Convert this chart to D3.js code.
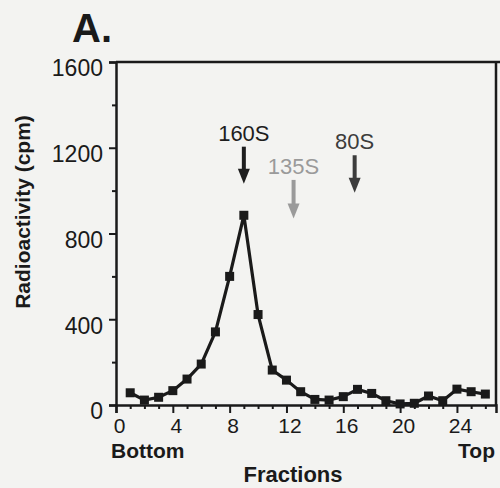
<!DOCTYPE html>
<html>
<head>
<meta charset="utf-8">
<script src="https://d3js.org/d3.v7.min.js"></script>
<style>
  html, body { margin: 0; padding: 0; background: #f3f3f1; }
  svg { display: block; }
  text { font-family: "Liberation Sans", Arial, Helvetica, sans-serif; }
</style>
</head>
<body>
<script>
// ---- data ----
const fractions = [1,2,3,4,5,6,7,8,9,10,11,12,13,14,15,16,17,18,19,20,21,22,23,24,25,26];
const cpm = [57,23,36,67,121,191,341,600,885,422,163,116,62,26,23,39,73,54,20,5,8,42,20,74,62,51];
const xTicks = [0,4,8,12,16,20,24];
const yTicks = [0,400,800,1200,1600];
const markerLabels = ["160S","135S","80S"];
const markerFractions = [9,12.5,16.8];
const markerTops = [1205,1050,1165];
const markerTips = [1032,870,990];
const markerColors = ["#1e1e1e","#9a9a9a","#3c3c3c"];

(function () {
const W = 500, H = 488;
const svg = d3.select("body").append("svg").attr("width", W).attr("height", H);

const mLeft = 116, mRight = 496, mTop = 62, mBottom = 405;
const x = d3.scaleLinear().domain([0, 26.75]).range([mLeft, mRight]);
const y = d3.scaleLinear().domain([0, 1600]).range([mBottom, mTop]);

const ink = "#1a1a1a";

// frame (top and right)
svg.append("line").attr("x1", mLeft).attr("x2", W).attr("y1", mTop).attr("y2", mTop)
  .attr("stroke", ink).attr("stroke-width", 2.5);
svg.append("line").attr("x1", mRight).attr("x2", mRight).attr("y1", mTop).attr("y2", mBottom)
  .attr("stroke", ink).attr("stroke-width", 2.5);

// y axis
const yAxis = d3.axisLeft(y).tickValues(yTicks).tickSize(7).tickPadding(6).tickFormat(d3.format("d"));
const gy = svg.append("g").attr("transform", `translate(${mLeft},0)`).call(yAxis);
gy.selectAll(".tick text").attr("font-size", 23).attr("fill", ink).attr("dy", "0.6em")
  .attr("font-family", "'Liberation Sans', Arial, sans-serif");
const yMinor = d3.axisLeft(y).tickValues(d3.range(200, 1600, 400)).tickSize(4).tickFormat("");
svg.append("g").attr("transform", `translate(${mLeft},0)`).call(yMinor).select(".domain").remove();

// x axis
const xAxis = d3.axisBottom(x).tickValues(xTicks).tickSize(8).tickPadding(5).tickFormat(d3.format("d"));
const gx = svg.append("g").attr("transform", `translate(0,${mBottom})`).call(xAxis);
gx.selectAll(".tick text").attr("font-size", 21).attr("fill", ink)
  .attr("dx", 3).attr("font-family", "'Liberation Sans', Arial, sans-serif");
const xMinor = d3.axisBottom(x).tickValues(d3.range(1, 27).filter(d => d % 4 !== 0)).tickSize(4).tickFormat("");
svg.append("g").attr("transform", `translate(0,${mBottom})`).call(xMinor).select(".domain").remove();

svg.selectAll(".domain").attr("stroke", ink).attr("stroke-width", 2.5);
svg.selectAll(".tick line").attr("stroke", ink).attr("stroke-width", 2);

// data line
const pts = fractions.map((f, i) => [f, cpm[i]]);
svg.append("path").datum(pts)
  .attr("fill", "none").attr("stroke", ink).attr("stroke-width", 3.2).attr("stroke-linejoin", "round")
  .attr("d", d3.line().x(d => x(d[0])).y(d => y(d[1])));
svg.selectAll("rect.pt").data(pts).enter().append("rect").attr("class", "pt")
  .attr("x", d => x(d[0]) - 4.5).attr("y", d => y(d[1]) - 4.5)
  .attr("width", 9).attr("height", 9).attr("fill", ink);

// arrows with labels
markerLabels.forEach((lab, i) => {
  const cx = x(markerFractions[i]);
  const y0 = y(markerTops[i]), y1 = y(markerTips[i]);
  const col = markerColors[i];
  svg.append("line").attr("x1", cx).attr("x2", cx).attr("y1", y0).attr("y2", y1 - 12)
    .attr("stroke", col).attr("stroke-width", 4);
  svg.append("path").attr("d", `M${cx-6},${y1-15} L${cx+6},${y1-15} L${cx},${y1} Z`).attr("fill", col);
  svg.append("text").attr("x", cx).attr("y", y0 - 6).attr("text-anchor", "middle")
    .attr("font-size", 22).attr("fill", col).text(lab);
});

// titles
svg.append("text").attr("x", 72).attr("y", 42).attr("font-size", 40).attr("font-weight", "bold")
  .attr("fill", ink).text("A.");
svg.append("text").attr("transform", `translate(30,212) rotate(-90)`).attr("text-anchor", "middle")
  .attr("font-size", 21).attr("font-weight", "bold").attr("fill", ink).text("Radioactivity (cpm)");
svg.append("text").attr("x", 111).attr("y", 458).attr("font-size", 21).attr("font-weight", "bold")
  .attr("fill", ink).text("Bottom");
svg.append("text").attr("x", 495).attr("y", 458).attr("text-anchor", "end").attr("font-size", 21)
  .attr("font-weight", "bold").attr("fill", ink).text("Top");
svg.append("text").attr("x", 293).attr("y", 482).attr("text-anchor", "middle").attr("font-size", 22)
  .attr("font-weight", "bold").attr("fill", ink).text("Fractions");
})();
</script>
</body>
</html>
